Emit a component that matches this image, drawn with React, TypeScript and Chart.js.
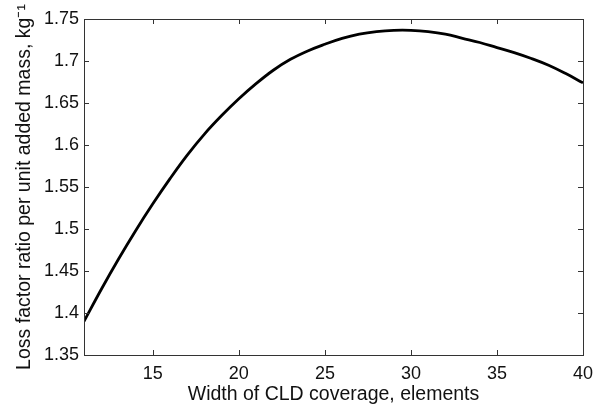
import React, { useEffect, useRef } from "react";
import { Chart, registerables } from "chart.js";

Chart.register(...registerables);

const widths = [11, 12, 13, 14, 15, 16, 17, 18, 19, 20, 21, 22, 23, 24, 25, 26, 27, 28, 29, 30, 31, 32, 33, 34, 35, 36, 37, 38, 39, 40];
const lossRatio = [1.390, 1.428, 1.464, 1.498, 1.530, 1.560, 1.588, 1.613, 1.635, 1.655, 1.673, 1.689, 1.702, 1.712, 1.720, 1.727, 1.732, 1.735, 1.7365, 1.7365, 1.735, 1.732, 1.727, 1.722, 1.716, 1.710, 1.703, 1.695, 1.685, 1.674];
const xTicks = [15, 20, 25, 30, 35, 40];
const yTicks = [1.35, 1.4, 1.45, 1.5, 1.55, 1.6, 1.65, 1.7, 1.75];
const yTickLabels = ["1.35", "1.4", "1.45", "1.5", "1.55", "1.6", "1.65", "1.7", "1.75"];

const FONT = "'Liberation Sans', Arial, sans-serif";

const boxPlugin = {
  id: "matlabBox",
  afterDatasetsDraw(chart: any) {
    const { ctx, chartArea, scales } = chart;
    const { left, right, top, bottom } = chartArea;
    const len = 5;
    ctx.save();
    ctx.strokeStyle = "#333";
    ctx.lineWidth = 1;
    ctx.beginPath();
    xTicks.forEach((v) => {
      const x = Math.round(scales.x.getPixelForValue(v)) + 0.5;
      ctx.moveTo(x, bottom);
      ctx.lineTo(x, bottom - len);
      ctx.moveTo(x, top);
      ctx.lineTo(x, top + len);
    });
    yTicks.forEach((v) => {
      const y = Math.round(scales.y.getPixelForValue(v)) + 0.5;
      ctx.moveTo(left, y);
      ctx.lineTo(left + len, y);
      ctx.moveTo(right, y);
      ctx.lineTo(right - len, y);
    });
    ctx.stroke();
    ctx.strokeRect(Math.round(left) + 0.5, Math.round(top) + 0.5, Math.round(right - left), Math.round(bottom - top));
    ctx.restore();
  },
};

export default function App() {
  const ref = useRef<HTMLCanvasElement | null>(null);
  useEffect(() => {
    if (!ref.current) return;
    const chart = new Chart(ref.current, {
      type: "line",
      data: {
        datasets: [
          {
            data: widths.map((w, i) => ({ x: w, y: lossRatio[i] })),
            borderColor: "#000",
            borderWidth: 2.8,
            pointRadius: 0,
            tension: 0.4,
            fill: false,
          },
        ],
      },
      options: {
        responsive: false,
        animation: false,
        layout: { padding: { top: 19, right: 19, left: 0, bottom: 0 } },
        plugins: { legend: { display: false }, tooltip: { enabled: false } },
        scales: {
          x: {
            type: "linear",
            min: 11,
            max: 40,
            grid: { display: false, drawTicks: false },
            border: { display: false },
            afterBuildTicks: (s: any) => {
              s.ticks = xTicks.map((v) => ({ value: v }));
            },
            afterFit: (s: any) => {
              s.height = 57;
            },
            ticks: {
              color: "#111",
              font: { family: FONT, size: 18 },
              padding: 8,
              maxRotation: 0,
              callback: (v: any) => String(v),
            },
            title: {
              display: true,
              text: "Width of CLD coverage, elements",
              color: "#111",
              font: { family: FONT, size: 19.5 },
              padding: { top: 0, bottom: 6 },
            },
          },
          y: {
            type: "linear",
            min: 1.35,
            max: 1.75,
            grid: { display: false, drawTicks: false },
            border: { display: false },
            afterBuildTicks: (s: any) => {
              s.ticks = yTicks.map((v) => ({ value: v }));
            },
            afterFit: (s: any) => {
              s.width = 84;
            },
            ticks: {
              color: "#111",
              font: { family: FONT, size: 18 },
              padding: 5,
              callback: (v: any) => {
                const i = yTicks.findIndex((t) => Math.abs(t - v) < 1e-9);
                return i >= 0 ? yTickLabels[i] : "";
              },
            },
            title: {
              display: true,
              text: "Loss factor ratio per unit added mass, kg\u207B\u00B9",
              color: "#111",
              font: { family: FONT, size: 19.5 },
              padding: { top: 13, bottom: 0 },
            },
          },
        },
      },
      plugins: [boxPlugin],
    } as any);
    return () => chart.destroy();
  }, []);
  return (
    <div style={{ position: "absolute", left: 0, top: 0, width: 602, height: 412, background: "#fff" }}>
      <canvas ref={ref} width={602} height={412} />
    </div>
  );
}
